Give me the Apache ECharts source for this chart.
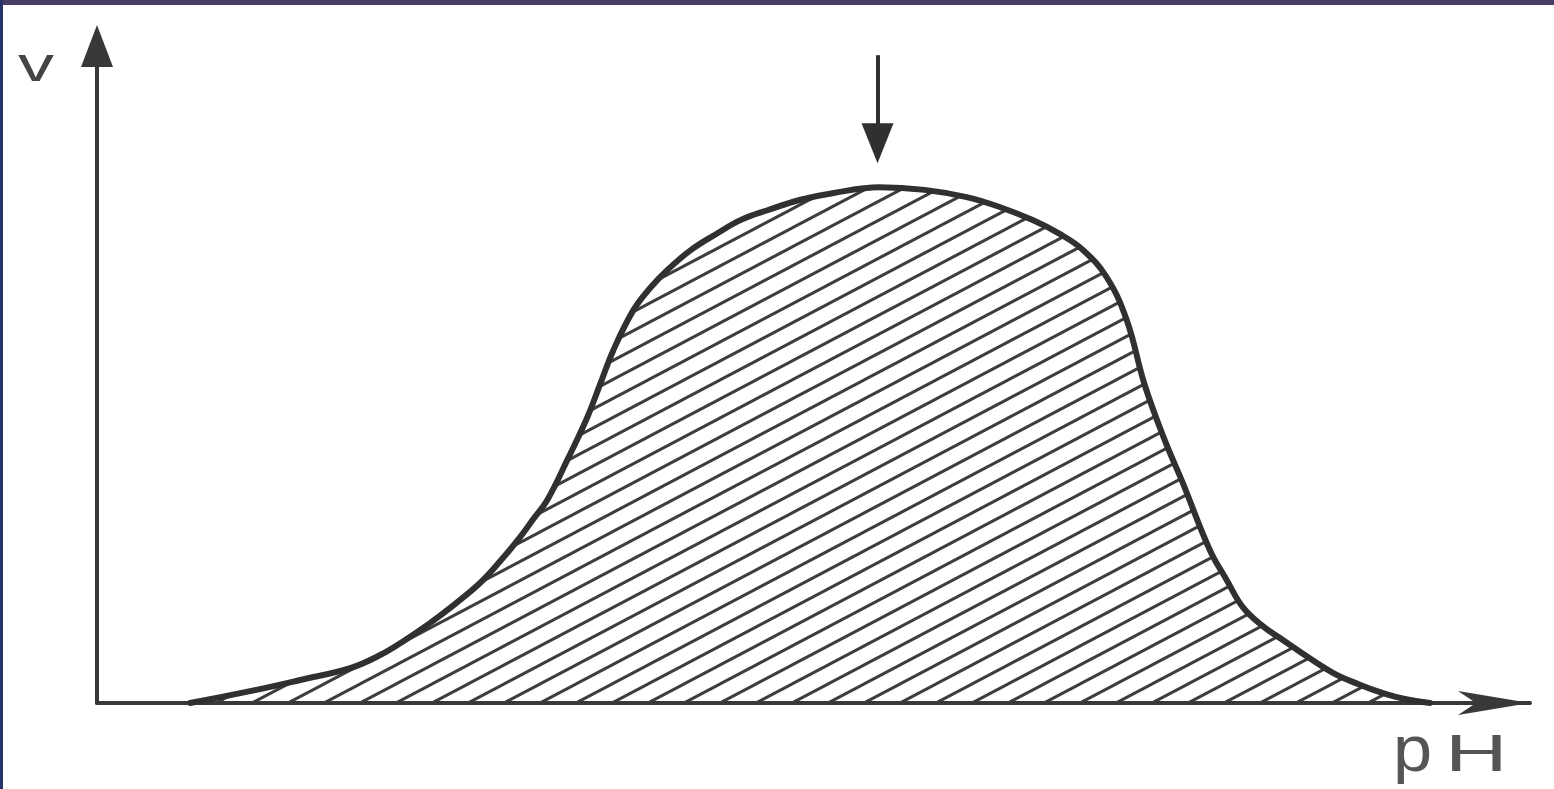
<!DOCTYPE html>
<html>
<head>
<meta charset="utf-8">
<title>v vs pH</title>
<script src="https://cdn.jsdelivr.net/npm/echarts@6/dist/echarts.min.js"></script>
<style>
  html, body { margin: 0; padding: 0; background: #fff; }
  #chart { width: 1554px; height: 789px; }
  .band-top { position: absolute; left: 0; top: 0; width: 1554px; height: 5px; background: #473d66; }
  .band-left { position: absolute; left: 0; top: 0; width: 3px; height: 789px; background: #27326c; }
</style>
</head>
<body>
<div id="chart"></div>
<div class="band-top"></div>
<div class="band-left"></div>
<script>
// pH values along the curve
const phValues = [0.93, 1.53, 2.03, 2.53, 2.83, 3.08, 3.33, 3.58, 3.83, 4.03, 4.23, 4.36, 4.5, 4.7, 4.9, 5.03, 5.16,
  5.36, 5.53, 5.7, 5.93, 6.2, 6.43, 6.7, 7.03, 7.35, 7.82, 8.27, 8.69, 9.02, 9.35, 9.62, 9.85, 10.09, 10.29,
  10.47, 10.67, 10.85, 11.12, 11.29, 11.45, 11.65, 11.85, 12.1, 12.35, 12.6, 12.85, 13.07, 13.32];
// rate v (relative units)
const rateValues = [0, 1.8, 3.5, 5.3, 7.3, 9.6, 12.2, 15.1, 18.3, 21.6, 25.3, 28.0, 30.9, 37.0, 43.5, 48.6, 53.7,
  59.8, 63.2, 65.9, 68.9, 71.5, 73.5, 75.0, 76.6, 77.6, 78.5, 78.1, 77.0, 75.5, 73.5, 71.4, 69.0, 64.8, 58.3,
  48.4, 40.0, 33.5, 23.3, 18.7, 14.6, 11.7, 9.6, 7.0, 4.6, 2.9, 1.5, 0.6, 0];
// optimum pH marker (arrow from top down to the peak)
const optimumPH = 7.8;
const arrowFrom = 98.6;
const arrowTo = 85.2;

// hatch pattern for the area under the curve
function makeHatch() {
  const w = 36, h = 19;
  const c = document.createElement('canvas');
  c.width = w; c.height = h;
  const ctx = c.getContext('2d');
  ctx.strokeStyle = '#3d3d3d';
  ctx.lineWidth = 3;
  for (let k = -1; k <= 1; k++) {
    ctx.beginPath();
    ctx.moveTo(-w, 2 * h + k * h);
    ctx.lineTo(2 * w, -h + k * h);
    ctx.stroke();
  }
  return c;
}

const chart = echarts.init(document.getElementById('chart'));

const labelFont = '"Liberation Sans", sans-serif';

const option = {
  backgroundColor: '#fff',
  animation: false,
  grid: { left: 97, right: 24, top: 46, bottom: 86 },
  xAxis: {
    type: 'value',
    min: 0,
    max: 14.32,
    axisLine: {
      show: true,
      onZero: false,
      symbol: ['none', 'arrow'],
      symbolSize: [18, 72],
      lineStyle: { color: '#383838', width: 4 }
    },
    axisTick: { show: false },
    axisLabel: { show: false },
    splitLine: { show: false }
  },
  yAxis: {
    type: 'value',
    min: 0,
    max: 100,
    axisLine: {
      show: true,
      onZero: false,
      symbol: ['none', 'triangle'],
      symbolSize: [32, 42],
      lineStyle: { color: '#383838', width: 4 }
    },
    axisTick: { show: false },
    axisLabel: { show: false },
    splitLine: { show: false }
  },
  graphic: [
    {
      type: 'text',
      x: 18,
      y: 44,
      scaleX: 1.5,
      style: { text: 'v', font: '48px ' + labelFont, fill: '#444', verticalAlign: 'top', align: 'left' }
    },
    {
      type: 'text',
      x: 1393,
      y: 721,
      scaleX: 1.1,
      style: { text: 'p', font: '64px ' + labelFont, fill: '#555', verticalAlign: 'top', align: 'left' }
    },
    {
      type: 'text',
      x: 1445,
      y: 731,
      scaleX: 1.7,
      style: { text: 'H', font: '51px ' + labelFont, fill: '#555', verticalAlign: 'top', align: 'left' }
    }
  ],
  series: [
    {
      type: 'line',
      data: phValues.map((p, i) => [p, rateValues[i]]),
      smooth: 0.4,
      showSymbol: false,
      clip: false,
      lineStyle: { color: '#303030', width: 6, cap: 'round', join: 'round' },
      areaStyle: {
        color: { image: makeHatch(), repeat: 'repeat' },
        opacity: 1
      },
      markLine: {
        silent: true,
        symbol: ['none', 'triangle'],
        symbolSize: [32, 40],
        label: { show: false },
        lineStyle: { color: '#303030', width: 4, type: 'solid' },
        data: [[
          { coord: [optimumPH, arrowFrom] },
          { coord: [optimumPH, arrowTo] }
        ]]
      }
    }
  ]
};

chart.setOption(option);
</script>
</body>
</html>
